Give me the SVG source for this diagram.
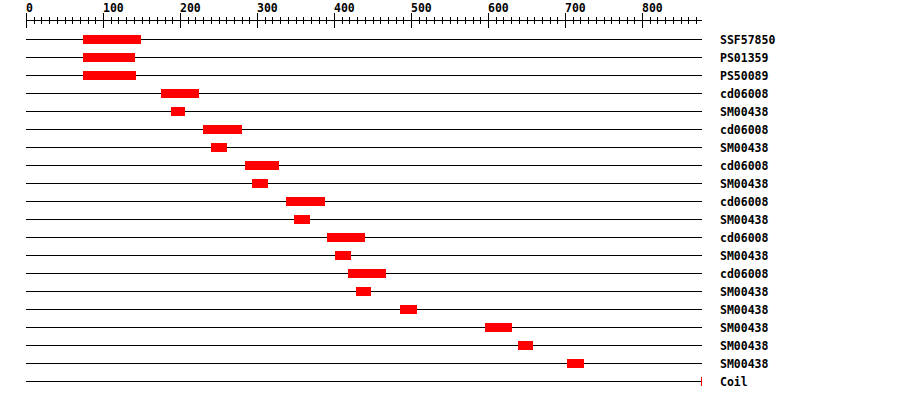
<svg xmlns="http://www.w3.org/2000/svg" xmlns:xlink="http://www.w3.org/1999/xlink" width="900" height="400" viewBox="0 0 900 400">
<style>
.ax{stroke:#000;stroke-width:1;fill:none;shape-rendering:crispEdges}
.row{stroke:#000;stroke-width:1;shape-rendering:crispEdges}
.dom{fill:#ff0000;shape-rendering:crispEdges}
.t{font-family:"DejaVu Sans Mono","Liberation Mono",monospace;font-weight:bold;font-size:11.5px;fill:#000}
</style>
<defs>
<g id="hund">
<path class="ax" d="M0.5,13V28M8.2,17V24M15.9,17V24M23.6,17V24M31.3,17V24M39,17V24M46.7,17V24M54.4,17V24M62.1,17V24M69.8,17V24"/>
</g>
</defs>
<rect width="900" height="400" fill="#fff"/>
<g id="axis">
<line class="ax" x1="26" y1="20.5" x2="702" y2="20.5"/>
<use xlink:href="#hund" x="26"/>
<use xlink:href="#hund" x="103"/>
<use xlink:href="#hund" x="180"/>
<use xlink:href="#hund" x="257"/>
<use xlink:href="#hund" x="334"/>
<use xlink:href="#hund" x="411"/>
<use xlink:href="#hund" x="488"/>
<use xlink:href="#hund" x="565"/>
<path class="ax" d="M642.5,13V28M650.2,17V24M657.9,17V24M665.6,17V24M673.3,17V24M681,17V24M688.7,17V24M696.4,17V24"/>
<text class="t" x="26" y="12">0</text>
<text class="t" x="103" y="12">100</text>
<text class="t" x="180" y="12">200</text>
<text class="t" x="257" y="12">300</text>
<text class="t" x="334" y="12">400</text>
<text class="t" x="411" y="12">500</text>
<text class="t" x="488" y="12">600</text>
<text class="t" x="565" y="12">700</text>
<text class="t" x="642" y="12">800</text>
</g>
<g id="rows">
<line class="row" x1="26" y1="39.5" x2="702" y2="39.5"/>
<line class="row" x1="26" y1="57.5" x2="702" y2="57.5"/>
<line class="row" x1="26" y1="75.5" x2="702" y2="75.5"/>
<line class="row" x1="26" y1="93.5" x2="702" y2="93.5"/>
<line class="row" x1="26" y1="111.5" x2="702" y2="111.5"/>
<line class="row" x1="26" y1="129.5" x2="702" y2="129.5"/>
<line class="row" x1="26" y1="147.5" x2="702" y2="147.5"/>
<line class="row" x1="26" y1="165.5" x2="702" y2="165.5"/>
<line class="row" x1="26" y1="183.5" x2="702" y2="183.5"/>
<line class="row" x1="26" y1="201.5" x2="702" y2="201.5"/>
<line class="row" x1="26" y1="219.5" x2="702" y2="219.5"/>
<line class="row" x1="26" y1="237.5" x2="702" y2="237.5"/>
<line class="row" x1="26" y1="255.5" x2="702" y2="255.5"/>
<line class="row" x1="26" y1="273.5" x2="702" y2="273.5"/>
<line class="row" x1="26" y1="291.5" x2="702" y2="291.5"/>
<line class="row" x1="26" y1="309.5" x2="702" y2="309.5"/>
<line class="row" x1="26" y1="327.5" x2="702" y2="327.5"/>
<line class="row" x1="26" y1="345.5" x2="702" y2="345.5"/>
<line class="row" x1="26" y1="363.5" x2="702" y2="363.5"/>
<line class="row" x1="26" y1="381.5" x2="702" y2="381.5"/>
</g>
<g id="n0"><rect class="dom" x="83" y="35" width="58" height="9"/><text class="t" x="720" y="44">SSF57850</text></g>
<g id="n1"><rect class="dom" x="83" y="53" width="52" height="9"/><text class="t" x="720" y="62">PS01359</text></g>
<g id="n2"><rect class="dom" x="83" y="71" width="53" height="9"/><text class="t" x="720" y="80">PS50089</text></g>
<g id="n3"><rect class="dom" x="161" y="89" width="38" height="9"/><text class="t" x="720" y="98">cd06008</text></g>
<g id="n4"><rect class="dom" x="171" y="107" width="14" height="9"/><text class="t" x="720" y="116">SM00438</text></g>
<g id="n5"><rect class="dom" x="203" y="125" width="39" height="9"/><text class="t" x="720" y="134">cd06008</text></g>
<g id="n6"><rect class="dom" x="211" y="143" width="16" height="9"/><text class="t" x="720" y="152">SM00438</text></g>
<g id="n7"><rect class="dom" x="245" y="161" width="34" height="9"/><text class="t" x="720" y="170">cd06008</text></g>
<g id="n8"><rect class="dom" x="252" y="179" width="16" height="9"/><text class="t" x="720" y="188">SM00438</text></g>
<g id="n9"><rect class="dom" x="286" y="197" width="39" height="9"/><text class="t" x="720" y="206">cd06008</text></g>
<g id="n10"><rect class="dom" x="294" y="215" width="16" height="9"/><text class="t" x="720" y="224">SM00438</text></g>
<g id="n11"><rect class="dom" x="327" y="233" width="38" height="9"/><text class="t" x="720" y="242">cd06008</text></g>
<g id="n12"><rect class="dom" x="335" y="251" width="16" height="9"/><text class="t" x="720" y="260">SM00438</text></g>
<g id="n13"><rect class="dom" x="348" y="269" width="38" height="9"/><text class="t" x="720" y="278">cd06008</text></g>
<g id="n14"><rect class="dom" x="356" y="287" width="15" height="9"/><text class="t" x="720" y="296">SM00438</text></g>
<g id="n15"><rect class="dom" x="400" y="305" width="17" height="9"/><text class="t" x="720" y="314">SM00438</text></g>
<g id="n16"><rect class="dom" x="485" y="323" width="27" height="9"/><text class="t" x="720" y="332">SM00438</text></g>
<g id="n17"><rect class="dom" x="518" y="341" width="15" height="9"/><text class="t" x="720" y="350">SM00438</text></g>
<g id="n18"><rect class="dom" x="567" y="359" width="17" height="9"/><text class="t" x="720" y="368">SM00438</text></g>
<g id="n19"><rect class="dom" x="701" y="377" width="1" height="9"/><text class="t" x="720" y="386">Coil</text></g>
</svg>
